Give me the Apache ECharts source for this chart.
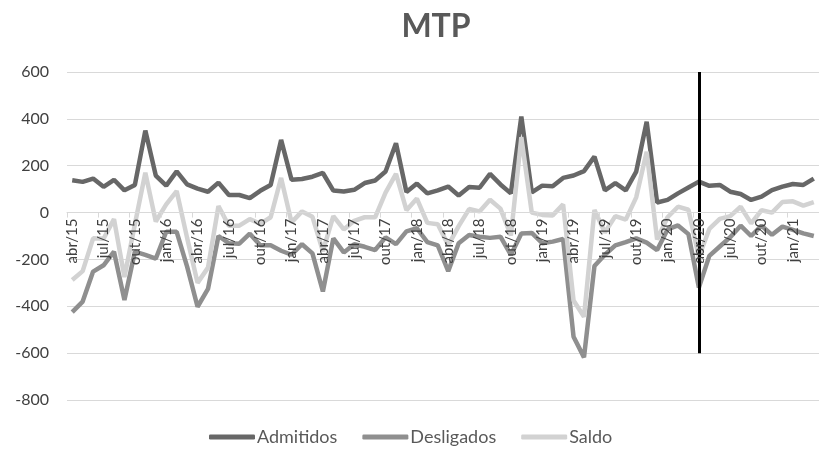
<!DOCTYPE html>
<html>
<head>
<meta charset="utf-8">
<script src="https://cdn.jsdelivr.net/npm/echarts@6/dist/echarts.min.js"></script>
<style>
  html, body { margin: 0; padding: 0; background: #fff; }
  #chart { width: 819px; height: 455px; }
</style>
</head>
<body>
<div id="chart"></div>
<script>
// months abr/15 .. mar/21
const monthNames = ["jan", "fev", "mar", "abr", "mai", "jun", "jul", "ago", "set", "out", "nov", "dez"];
const categories = [];
for (let i = 0; i < 72; i++) {
  const m = (3 + i) % 12;
  const y = 15 + Math.floor((3 + i) / 12);
  categories.push(monthNames[m] + "/" + y);
}

const admitidos = [
  138, 131, 145, 110, 140, 95, 118, 350, 158, 115, 176, 120,
  102, 89, 128, 75, 75, 62, 93, 118, 310, 140, 143, 153,
  169, 94, 90, 97, 126, 137, 175, 296, 88, 124, 82, 95,
  111, 73, 109, 106, 165, 120, 82, 410, 86, 115, 112, 148,
  158, 177, 239, 95, 126, 95, 175, 388, 43, 54, 82, 107,
  132, 114, 118, 89, 79, 54, 68, 96, 111, 122, 118, 145
];

const desligados = [
  -425, -380, -252, -225, -167, -373, -167, -181, -197, -82, -82, -231,
  -402, -326, -100, -131, -133, -90, -140, -140, -163, -180, -135, -174,
  -337, -110, -170, -135, -146, -160, -106, -135, -80, -67, -126, -140,
  -250, -131, -96, -103, -108, -103, -181, -89, -87, -131, -124, -113,
  -530, -618, -228, -180, -140, -126, -110, -128, -160, -72, -55, -92,
  -320, -185, -145, -105, -56, -100, -56, -95, -60, -74, -89, -100
];

const saldo = [
  -288, -250, -110, -112, -28, -275, -50, 170, -38, 35, 92, -108,
  -300, -235, 28, -56, -56, -28, -48, -20, 148, -42, 5, -18,
  -165, -15, -72, -35, -20, -20, 85, 165, 10, 60, -44, -50,
  -140, -58, 15, 5, 55, 17, -98, 322, 0, -10, -12, 35,
  -375, -445, 11, -85, -15, -30, 65, 260, -115, -20, 25, 12,
  -190, -70, -27, -15, 25, -46, 10, 0, 45, 48, 30, 45
];

const markMonth = "abr/20";

const yMin = -800, yMax = 600;
const gridTop = 72, gridHeight = 328;
// move the category axis up to the zero line
const zeroOffset = -gridHeight * (0 - yMin) / (yMax - yMin);

const chart = echarts.init(document.getElementById("chart"));

const lineSeries = (name, data, color) => ({
  name: name,
  type: "line",
  data: data,
  symbol: "none",
  lineStyle: { color: color, width: 4.5 },
  itemStyle: { color: color },
});

const admSeries = lineSeries("Admitidos", admitidos, "#676767");
admSeries.markLine = {
  silent: true,
  symbol: "none",
  label: { show: false },
  lineStyle: { color: "#000", width: 3, type: "solid" },
  data: [[{ coord: [markMonth, 600] }, { coord: [markMonth, -600] }]],
};

const option = {
  animation: false,
  backgroundColor: "#fff",
  textStyle: { fontFamily: "Lato" },
  title: {
    text: "MTP",
    left: 431,
    top: 6,
    textAlign: "center",
    textStyle: { fontFamily: "Lato", fontWeight: "bold", fontSize: 32, color: "#595959" },
  },
  legend: {
    bottom: 4,
    left: 204,
    itemWidth: 46,
    itemHeight: 5,
    itemGap: 25,
    icon: "roundRect",
    textStyle: { fontFamily: "Lato", fontSize: 18, color: "#595959", padding: [0, 0, 0, -3] },
    data: ["Admitidos", "Desligados", "Saldo"],
  },
  grid: { left: 67, top: gridTop, width: 763, height: gridHeight },
  xAxis: {
    type: "category",
    data: categories,
    boundaryGap: true,
    offset: zeroOffset,
    z: 5,
    axisLine: { onZero: false, lineStyle: { color: "#d9d9d9", width: 1 } },
    axisTick: { show: true, interval: 2, length: 5, lineStyle: { color: "#d9d9d9" } },
    axisLabel: {
      interval: 2,
      rotate: 90,
      margin: 6,
      fontSize: 15,
      color: "#404040",
      fontFamily: "Lato",
    },
  },
  yAxis: {
    type: "value",
    min: yMin,
    max: yMax,
    interval: 200,
    axisLine: { show: false },
    axisTick: { show: false },
    axisLabel: { fontSize: 16, color: "#404040", margin: 18, fontFamily: "Lato" },
    splitLine: { lineStyle: { color: "#d9d9d9", width: 1 } },
  },
  series: [
    admSeries,
    lineSeries("Desligados", desligados, "#8f8f8f"),
    lineSeries("Saldo", saldo, "#d2d2d2"),
  ],
};

chart.setOption(option);
</script>
</body>
</html>
